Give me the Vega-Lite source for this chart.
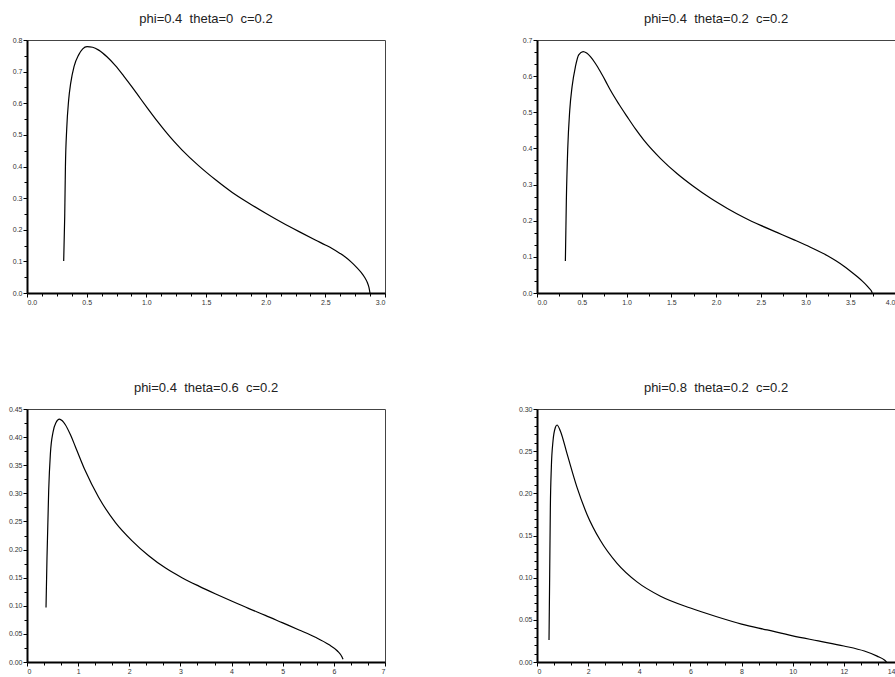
{
  "$schema": "https://vega.github.io/schema/vega-lite/v6.json",
  "padding": {"left": 7, "top": 12, "right": 0, "bottom": 0},
  "background": "white",
  "bounds": "flush",
  "columns": 2,
  "spacing": {"row": 116, "column": 152},
  "config": {
    "view": {"stroke": "#444444", "strokeWidth": 1},
    "title": {"fontSize": 13, "font": "Liberation Sans", "fontWeight": "normal", "color": "#222222", "offset": 10.5},
    "axis": {
      "grid": false, "title": null,
      "domainColor": "black", "domainWidth": 2,
      "tickColor": "black", "tickSize": 4, "tickWidth": 1,
      "labelFont": "Liberation Sans", "labelFontSize": 7, "labelColor": "#333333", "labelPadding": 1,
      "labelOverlap": false
    },
    "line": {"color": "black", "strokeWidth": 1.2, "interpolate": "monotone"}
  },
  "data": {"values": [
    {"p":1,"x":0.3075,"y":0.101},{"p":1,"x":0.316,"y":0.241},{"p":1,"x":0.322,"y":0.40},{"p":1,"x":0.333,"y":0.52},{"p":1,"x":0.349,"y":0.61},{"p":1,"x":0.366,"y":0.663},{"p":1,"x":0.394,"y":0.716},{"p":1,"x":0.433,"y":0.753},{"p":1,"x":0.467,"y":0.772},{"p":1,"x":0.503,"y":0.779},{"p":1,"x":0.55,"y":0.777},{"p":1,"x":0.601,"y":0.768},{"p":1,"x":0.67,"y":0.747},{"p":1,"x":0.741,"y":0.719},{"p":1,"x":0.811,"y":0.686},{"p":1,"x":0.881,"y":0.651},{"p":1,"x":0.95,"y":0.615},{"p":1,"x":1.02,"y":0.579},{"p":1,"x":1.09,"y":0.544},{"p":1,"x":1.16,"y":0.511},{"p":1,"x":1.23,"y":0.480},{"p":1,"x":1.30,"y":0.452},{"p":1,"x":1.44,"y":0.402},{"p":1,"x":1.58,"y":0.358},{"p":1,"x":1.72,"y":0.318},{"p":1,"x":1.86,"y":0.284},{"p":1,"x":2.0,"y":0.252},{"p":1,"x":2.14,"y":0.222},{"p":1,"x":2.28,"y":0.194},{"p":1,"x":2.42,"y":0.167},{"p":1,"x":2.50,"y":0.152},{"p":1,"x":2.56,"y":0.140},{"p":1,"x":2.62,"y":0.126},{"p":1,"x":2.67,"y":0.113},{"p":1,"x":2.72,"y":0.097},{"p":1,"x":2.76,"y":0.082},{"p":1,"x":2.80,"y":0.065},{"p":1,"x":2.83,"y":0.049},{"p":1,"x":2.852,"y":0.033},{"p":1,"x":2.866,"y":0.017},{"p":1,"x":2.874,"y":0.0},
    {"p":2,"x":0.317,"y":0.0886},{"p":2,"x":0.328,"y":0.257},{"p":2,"x":0.343,"y":0.396},{"p":2,"x":0.366,"y":0.506},{"p":2,"x":0.392,"y":0.571},{"p":2,"x":0.429,"y":0.626},{"p":2,"x":0.466,"y":0.659},{"p":2,"x":0.515,"y":0.668},{"p":2,"x":0.555,"y":0.664},{"p":2,"x":0.597,"y":0.654},{"p":2,"x":0.653,"y":0.635},{"p":2,"x":0.709,"y":0.612},{"p":2,"x":0.765,"y":0.587},{"p":2,"x":0.821,"y":0.561},{"p":2,"x":0.914,"y":0.523},{"p":2,"x":1.007,"y":0.488},{"p":2,"x":1.10,"y":0.454},{"p":2,"x":1.194,"y":0.423},{"p":2,"x":1.381,"y":0.372},{"p":2,"x":1.567,"y":0.330},{"p":2,"x":1.754,"y":0.294},{"p":2,"x":1.94,"y":0.262},{"p":2,"x":2.127,"y":0.234},{"p":2,"x":2.313,"y":0.209},{"p":2,"x":2.5,"y":0.187},{"p":2,"x":2.687,"y":0.167},{"p":2,"x":2.873,"y":0.147},{"p":2,"x":3.06,"y":0.126},{"p":2,"x":3.246,"y":0.103},{"p":2,"x":3.34,"y":0.089},{"p":2,"x":3.43,"y":0.074},{"p":2,"x":3.51,"y":0.059},{"p":2,"x":3.58,"y":0.045},{"p":2,"x":3.635,"y":0.033},{"p":2,"x":3.68,"y":0.022},{"p":2,"x":3.715,"y":0.012},{"p":2,"x":3.738,"y":0.005},{"p":2,"x":3.746,"y":0.0},
    {"p":3,"x":0.372,"y":0.0968},{"p":3,"x":0.391,"y":0.186},{"p":3,"x":0.424,"y":0.305},{"p":3,"x":0.457,"y":0.370},{"p":3,"x":0.509,"y":0.409},{"p":3,"x":0.568,"y":0.426},{"p":3,"x":0.633,"y":0.432},{"p":3,"x":0.69,"y":0.429},{"p":3,"x":0.75,"y":0.422},{"p":3,"x":0.85,"y":0.404},{"p":3,"x":0.946,"y":0.383},{"p":3,"x":1.14,"y":0.340},{"p":3,"x":1.40,"y":0.293},{"p":3,"x":1.73,"y":0.248},{"p":3,"x":2.05,"y":0.216},{"p":3,"x":2.38,"y":0.189},{"p":3,"x":2.71,"y":0.167},{"p":3,"x":3.03,"y":0.150},{"p":3,"x":3.36,"y":0.135},{"p":3,"x":3.69,"y":0.121},{"p":3,"x":4.01,"y":0.108},{"p":3,"x":4.34,"y":0.095},{"p":3,"x":4.66,"y":0.083},{"p":3,"x":4.99,"y":0.070},{"p":3,"x":5.32,"y":0.057},{"p":3,"x":5.64,"y":0.044},{"p":3,"x":5.90,"y":0.031},{"p":3,"x":6.07,"y":0.0196},{"p":3,"x":6.16,"y":0.0089},{"p":3,"x":6.18,"y":0.005},
    {"p":4,"x":0.47,"y":0.026},{"p":4,"x":0.496,"y":0.104},{"p":4,"x":0.522,"y":0.183},{"p":4,"x":0.561,"y":0.231},{"p":4,"x":0.626,"y":0.262},{"p":4,"x":0.717,"y":0.278},{"p":4,"x":0.783,"y":0.281},{"p":4,"x":0.913,"y":0.274},{"p":4,"x":1.174,"y":0.247},{"p":4,"x":1.565,"y":0.207},{"p":4,"x":1.956,"y":0.175},{"p":4,"x":2.48,"y":0.144},{"p":4,"x":3.13,"y":0.117},{"p":4,"x":3.91,"y":0.095},{"p":4,"x":4.83,"y":0.078},{"p":4,"x":6.0,"y":0.064},{"p":4,"x":7.0,"y":0.054},{"p":4,"x":8.0,"y":0.045},{"p":4,"x":9.0,"y":0.038},{"p":4,"x":10.0,"y":0.031},{"p":4,"x":11.0,"y":0.025},{"p":4,"x":12.0,"y":0.019},{"p":4,"x":12.8,"y":0.013},{"p":4,"x":13.3,"y":0.007},{"p":4,"x":13.6,"y":0.002},{"p":4,"x":13.67,"y":0.0}
  ]},
  "concat": [
    {
      "title": "phi=0.4\u00a0 theta=0\u00a0 c=0.2",
      "width": 358, "height": 253,
      "transform": [{"filter": "datum.p == 1"}],
      "layer": [
        {"mark": "line",
         "encoding": {
           "x": {"field": "x", "type": "quantitative", "scale": {"domain": [0, 3], "nice": false, "zero": false}, "axis": {"orient": "bottom", "values": [0, 0.5, 1, 1.5, 2, 2.5, 3], "format": ".1f"}},
           "y": {"field": "y", "type": "quantitative", "scale": {"domain": [0, 0.8], "nice": false, "zero": false}, "axis": {"orient": "left", "values": [0, 0.1, 0.2, 0.3, 0.4, 0.5, 0.6, 0.7, 0.8], "format": ".1f"}}}},
        {"mark": {"type": "line", "opacity": 0},
         "encoding": {
           "x": {"field": "x", "type": "quantitative", "axis": {"orient": "bottom", "values": [0.125, 0.25, 0.375, 0.625, 0.75, 0.875, 1.125, 1.25, 1.375, 1.625, 1.75, 1.875, 2.125, 2.25, 2.375, 2.625, 2.75, 2.875], "labels": false, "domain": false, "tickSize": 3}},
           "y": {"field": "y", "type": "quantitative", "axis": {"orient": "left", "values": [0.05, 0.15, 0.25, 0.35, 0.45, 0.55, 0.65, 0.75], "labels": false, "domain": false, "tickSize": 3}}}}
      ],
      "resolve": {"axis": {"x": "independent", "y": "independent"}}
    },
    {
      "title": "phi=0.4\u00a0 theta=0.2\u00a0 c=0.2",
      "width": 358, "height": 253,
      "transform": [{"filter": "datum.p == 2"}],
      "layer": [
        {"mark": "line",
         "encoding": {
           "x": {"field": "x", "type": "quantitative", "scale": {"domain": [0, 4], "nice": false, "zero": false}, "axis": {"orient": "bottom", "values": [0, 0.5, 1, 1.5, 2, 2.5, 3, 3.5, 4], "format": ".1f"}},
           "y": {"field": "y", "type": "quantitative", "scale": {"domain": [0, 0.7], "nice": false, "zero": false}, "axis": {"orient": "left", "values": [0, 0.1, 0.2, 0.3, 0.4, 0.5, 0.6, 0.7], "format": ".1f"}}}},
        {"mark": {"type": "line", "opacity": 0},
         "encoding": {
           "x": {"field": "x", "type": "quantitative", "axis": {"orient": "bottom", "values": [0.25, 0.75, 1.25, 1.75, 2.25, 2.75, 3.25, 3.75], "labels": false, "domain": false, "tickSize": 3}},
           "y": {"field": "y", "type": "quantitative", "axis": {"orient": "left", "values": [0.0333, 0.0667, 0.1333, 0.1667, 0.2333, 0.2667, 0.3333, 0.3667, 0.4333, 0.4667, 0.5333, 0.5667, 0.6333, 0.6667], "labels": false, "domain": false, "tickSize": 3}}}}
      ],
      "resolve": {"axis": {"x": "independent", "y": "independent"}}
    },
    {
      "title": "phi=0.4\u00a0 theta=0.6\u00a0 c=0.2",
      "width": 358, "height": 253,
      "transform": [{"filter": "datum.p == 3"}],
      "layer": [
        {"mark": "line",
         "encoding": {
           "x": {"field": "x", "type": "quantitative", "scale": {"domain": [0, 7], "nice": false, "zero": false}, "axis": {"orient": "bottom", "values": [0, 1, 2, 3, 4, 5, 6, 7], "format": "d"}},
           "y": {"field": "y", "type": "quantitative", "scale": {"domain": [0, 0.45], "nice": false, "zero": false}, "axis": {"orient": "left", "values": [0, 0.05, 0.1, 0.15, 0.2, 0.25, 0.3, 0.35, 0.4, 0.45], "format": ".2f"}}}},
        {"mark": {"type": "line", "opacity": 0},
         "encoding": {
           "x": {"field": "x", "type": "quantitative", "axis": {"orient": "bottom", "values": [0.3333, 0.6667, 1.3333, 1.6667, 2.3333, 2.6667, 3.3333, 3.6667, 4.3333, 4.6667, 5.3333, 5.6667, 6.3333, 6.6667], "labels": false, "domain": false, "tickSize": 3}},
           "y": {"field": "y", "type": "quantitative", "axis": {"orient": "left", "values": [0.025, 0.075, 0.125, 0.175, 0.225, 0.275, 0.325, 0.375, 0.425], "labels": false, "domain": false, "tickSize": 3}}}}
      ],
      "resolve": {"axis": {"x": "independent", "y": "independent"}}
    },
    {
      "title": "phi=0.8\u00a0 theta=0.2\u00a0 c=0.2",
      "width": 358, "height": 253,
      "transform": [{"filter": "datum.p == 4"}],
      "layer": [
        {"mark": "line",
         "encoding": {
           "x": {"field": "x", "type": "quantitative", "scale": {"domain": [0, 14], "nice": false, "zero": false}, "axis": {"orient": "bottom", "values": [0, 2, 4, 6, 8, 10, 12, 14], "format": "d"}},
           "y": {"field": "y", "type": "quantitative", "scale": {"domain": [0, 0.3], "nice": false, "zero": false}, "axis": {"orient": "left", "values": [0, 0.05, 0.1, 0.15, 0.2, 0.25, 0.3], "format": ".2f"}}}},
        {"mark": {"type": "line", "opacity": 0},
         "encoding": {
           "x": {"field": "x", "type": "quantitative", "axis": {"orient": "bottom", "values": [0.6667, 1.3333, 2.6667, 3.3333, 4.6667, 5.3333, 6.6667, 7.3333, 8.6667, 9.3333, 10.6667, 11.3333, 12.6667, 13.3333], "labels": false, "domain": false, "tickSize": 3}},
           "y": {"field": "y", "type": "quantitative", "axis": {"orient": "left", "values": [0.01, 0.02, 0.03, 0.04, 0.06, 0.07, 0.08, 0.09, 0.11, 0.12, 0.13, 0.14, 0.16, 0.17, 0.18, 0.19, 0.21, 0.22, 0.23, 0.24, 0.26, 0.27, 0.28, 0.29], "labels": false, "domain": false, "tickSize": 3}}}}
      ],
      "resolve": {"axis": {"x": "independent", "y": "independent"}}
    }
  ]
}
